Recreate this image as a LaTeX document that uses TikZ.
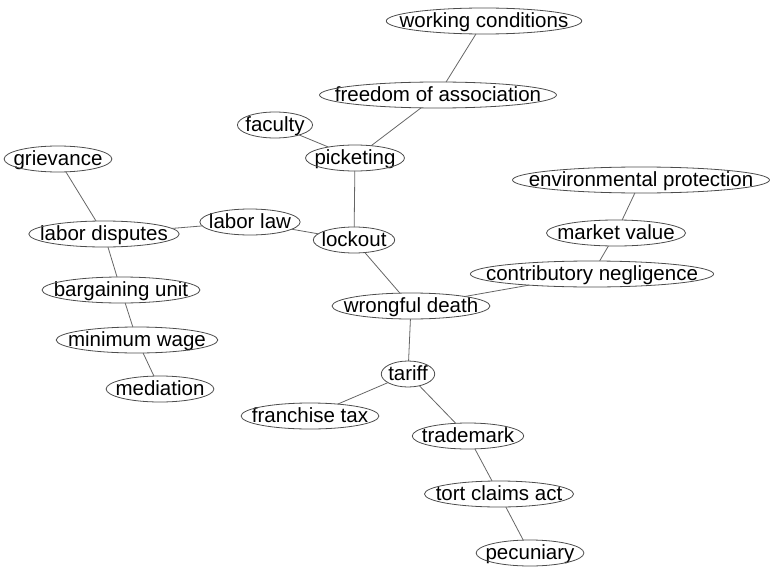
\documentclass[tikz,border=0pt]{standalone}
\usepackage{fontspec}
\setmainfont{Liberation Sans}
\usetikzlibrary{shapes.geometric,calc}

% \term{name}{x}{y}{label}: a label with an oval hugging it
\newcommand\term[4]{%
  \node[termtext] (#1-t) at (#2,#3) {#4};
  \path let \p1=($(#1-t.east)-(#1-t.west)$) in
    node[term, minimum width=1.1*\x1+10pt] (#1) at (#2,#3) {};}

\begin{document}
\begin{tikzpicture}[x=1pt, y=-1pt,
  termtext/.style={inner sep=0pt, outer sep=0pt, text height=16pt,
    text depth=3pt, font=\fontsize{20.5}{24}\selectfont},
  term/.style={ellipse, draw=black!70, line width=0.8pt,
    inner sep=0pt, outer sep=0pt, minimum height=26pt},
  link/.style={draw=black!60, line width=0.8pt}]
\useasboundingbox (0,0) rectangle (770,567);

\term{wc}{484}{21}{working conditions}
\term{foa}{438}{95}{freedom of association}
\term{fac}{275}{125}{faculty}
\term{pick}{355}{158}{picketing}
\term{griev}{58}{159}{grievance}
\term{env}{641}{180}{environmental protection}
\term{llaw}{250}{222}{labor law}
\term{ldisp}{104}{234}{labor disputes}
\term{mval}{616}{233}{market value}
\term{lock}{354}{240}{lockout}
\term{cneg}{592}{274}{contributory negligence}
\term{bunit}{121}{290}{bargaining unit}
\term{wdeath}{411}{306}{wrongful death}
\term{minw}{137}{340}{minimum wage}
\term{tariff}{408}{374}{tariff}
\term{med}{160}{389}{mediation}
\term{ftax}{310}{416}{franchise tax}
\term{tm}{468}{436}{trademark}
\term{tca}{499}{494}{tort claims act}
\term{pec}{530}{553}{pecuniary}

\draw[link] (wc) -- (foa);
\draw[link] (foa) -- (pick);
\draw[link] (fac) -- (pick);
\draw[link] (pick) -- (lock);
\draw[link] (llaw) -- (lock);
\draw[link] (llaw) -- (ldisp);
\draw[link] (griev) -- (ldisp);
\draw[link] (ldisp) -- (bunit);
\draw[link] (bunit) -- (minw);
\draw[link] (minw) -- (med);
\draw[link] (lock) -- (wdeath);
\draw[link] (wdeath) -- (cneg);
\draw[link] (cneg) -- (mval);
\draw[link] (mval) -- (env);
\draw[link] (wdeath) -- (tariff);
\draw[link] (tariff) -- (ftax);
\draw[link] (tariff) -- (tm);
\draw[link] (tm) -- (tca);
\draw[link] (tca) -- (pec);
\end{tikzpicture}
\end{document}
